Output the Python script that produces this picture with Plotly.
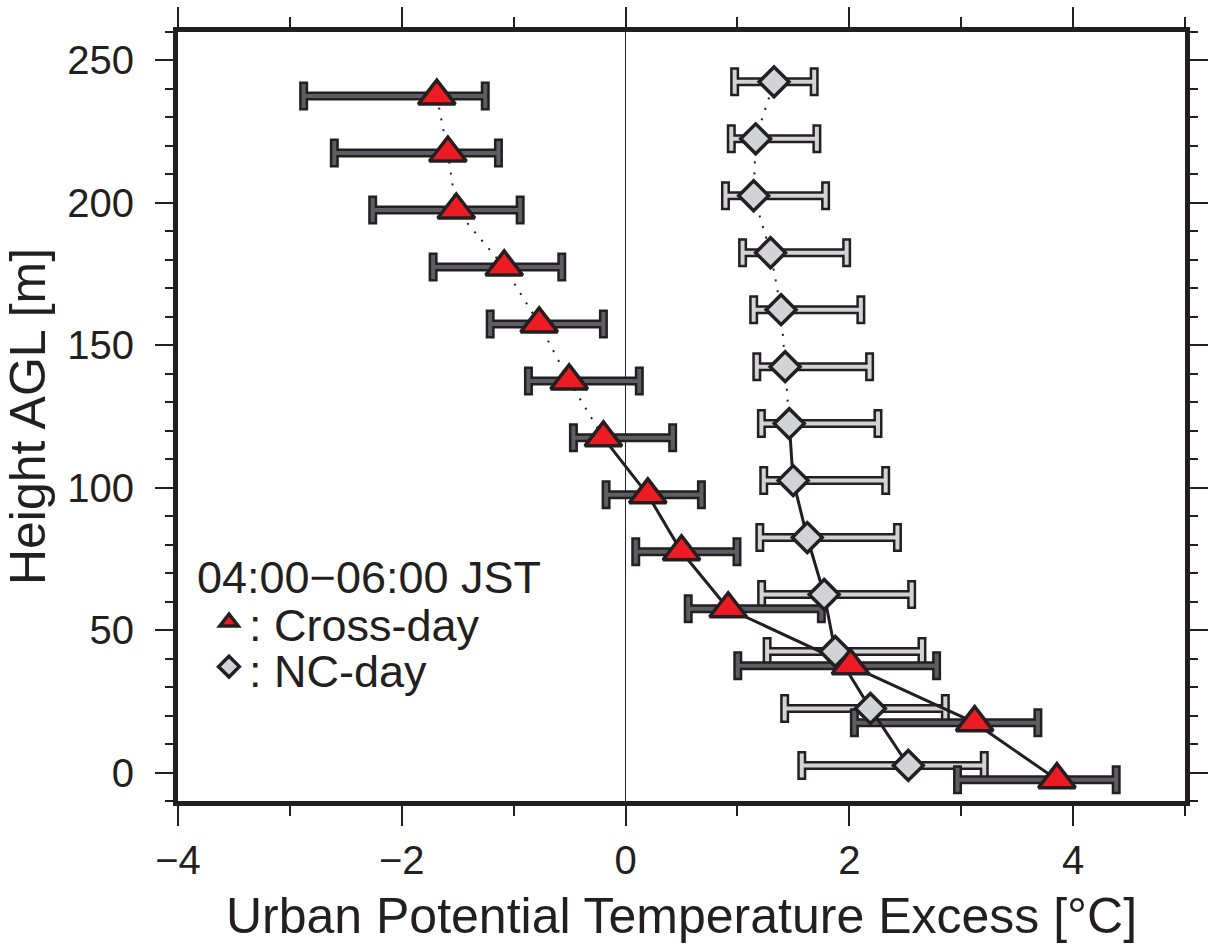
import plotly.graph_objects as go

# ---------------- data ----------------
heights = [0, 20, 40, 60, 80, 100, 120, 140, 160, 180, 200, 220, 240]

cross_mean = [3.855, 3.12, 2.01, 0.917, 0.50, 0.199, -0.198, -0.504, -0.772, -1.085, -1.513, -1.588, -1.687]
cross_low  = [2.967, 2.045, 1.003, 0.56, 0.091, -0.174, -0.466, -0.868, -1.21, -1.72, -2.26, -2.603, -2.877]
cross_high = [4.385, 3.685, 2.78, 1.75, 0.996, 0.678, 0.421, 0.123, -0.198, -0.57, -0.942, -1.136, -1.254]

nc_mean = [2.527, 2.188, 1.874, 1.775, 1.624, 1.498, 1.463, 1.426, 1.39, 1.296, 1.145, 1.163, 1.327]
nc_low  = [1.575, 1.422, 1.265, 1.216, 1.20, 1.235, 1.214, 1.173, 1.145, 1.046, 0.893, 0.945, 0.975]
nc_high = [3.206, 2.858, 2.649, 2.557, 2.43, 2.325, 2.256, 2.181, 2.103, 1.976, 1.788, 1.71, 1.686]

x_tickvals = [-4, -2, 0, 2, 4]
y_tickvals = [0, 50, 100, 150, 200, 250]

legend_title = "04:00\u221206:00 JST"
cross_name = ": Cross-day"
nc_name = ": NC-day"
x_title = "Urban Potential Temperature Excess [\u00b0C]"
y_title = "Height AGL [m]"

# ---------------- style ----------------
INK = "#231f20"
RED = "#ed1c24"
LIGHT = "#d1d3d4"
DARK = "#5d5e62"
FONT = "Liberation Sans, Arial, Helvetica, sans-serif"
OFFSET = 2.5          # vertical display offset of the two profiles
SPLIT = 6             # index where the connecting line turns from solid to dotted

cross_y = [h - OFFSET for h in heights]
nc_y = [h + OFFSET for h in heights]

fig = go.Figure()


def add_errorbars(x, y, low, high, fill):
    plus = [h - m for h, m in zip(high, x)]
    minus = [m - l for m, l in zip(x, low)]
    for color, th, w in [(INK, 9, 14.5), (fill, 4, 12)]:
        fig.add_trace(go.Scatter(
            x=x, y=y, mode="markers",
            marker=dict(size=1, opacity=0),
            error_x=dict(type="data", symmetric=False, array=plus, arrayminus=minus,
                         color=color, thickness=th, width=w),
            showlegend=False, hoverinfo="skip"))


add_errorbars(nc_mean, nc_y, nc_low, nc_high, LIGHT)
add_errorbars(cross_mean, cross_y, cross_low, cross_high, DARK)

for xs, ys in [(cross_mean, cross_y), (nc_mean, nc_y)]:
    fig.add_trace(go.Scatter(x=xs[:SPLIT + 1], y=ys[:SPLIT + 1], mode="lines",
                             line=dict(color=INK, width=3), showlegend=False, hoverinfo="skip"))
    fig.add_trace(go.Scatter(x=xs[SPLIT:], y=ys[SPLIT:], mode="lines",
                             line=dict(color=INK, width=2, dash="2px,9px"),
                             showlegend=False, hoverinfo="skip"))

# legend keys come from the marker traces; their labels are drawn as annotations
fig.add_trace(go.Scatter(x=nc_mean, y=nc_y, mode="markers", name=" ",
                         marker=dict(symbol="diamond", size=23, color=LIGHT,
                                     line=dict(color=INK, width=3.5))))
fig.add_trace(go.Scatter(x=cross_mean, y=cross_y, mode="markers", name="  ",
                         marker=dict(symbol="triangle-up", size=32, color=RED,
                                     line=dict(color=INK, width=3.5))))

axis_common = dict(
    showline=True, linewidth=5, linecolor=INK, mirror="ticks",
    ticks="outside", tickcolor=INK, tickwidth=2,
    showgrid=False, automargin=False,
    tickfont=dict(family=FONT, size=40, color=INK),
)

fig.update_xaxes(
    range=[-4, 5], tickvals=x_tickvals, ticklen=20,
    minor=dict(dtick=1, tick0=0, ticklen=10, tickwidth=2, tickcolor=INK, ticks="outside", showgrid=False),
    zeroline=True, zerolinecolor=INK, zerolinewidth=1,
    title=dict(text=x_title, font=dict(family=FONT, size=50, color=INK), standoff=18),
    **axis_common)

fig.update_yaxes(
    range=[-10, 260], tickvals=y_tickvals, ticklen=18, ticklabelstandoff=13,
    minor=dict(dtick=10, tick0=0, ticklen=8, tickwidth=2, tickcolor=INK, ticks="outside", showgrid=False),
    zeroline=False,
    title=dict(text=y_title, font=dict(family=FONT, size=50, color=INK), standoff=10),
    **axis_common)

# legend text (paper coordinates; plot area spans 178..1185 px, 32..800 px)
def px_x(p):
    return (p - 178) / 1007.0


def px_y(p):
    return (800 - p) / 768.0


label_font = dict(family=FONT, size=45, color=INK)
fig.add_annotation(text=legend_title, xref="paper", yref="paper", x=px_x(195), y=px_y(577),
                   xanchor="left", yanchor="middle", showarrow=False, font=label_font)
fig.add_annotation(text=cross_name, xref="paper", yref="paper", x=px_x(247), y=px_y(625),
                   xanchor="left", yanchor="middle", showarrow=False, font=label_font)
fig.add_annotation(text=nc_name, xref="paper", yref="paper", x=px_x(247), y=px_y(671),
                   xanchor="left", yanchor="middle", showarrow=False, font=label_font)

fig.update_layout(
    width=1211, height=947,
    margin=dict(l=178, r=26, t=32, b=146, autoexpand=False),
    paper_bgcolor="white", plot_bgcolor="white",
    font=dict(family=FONT, color=INK),
    legend=dict(
        x=px_x(195), y=px_y(594), xanchor="left", yanchor="top",
        bgcolor="rgba(0,0,0,0)", borderwidth=0,
        traceorder="reversed", indentation=14,
        font=dict(family=FONT, size=32, color=INK),
        itemsizing="trace", itemclick=False, itemdoubleclick=False,
    ),
)

fig.write_html("out.html")
